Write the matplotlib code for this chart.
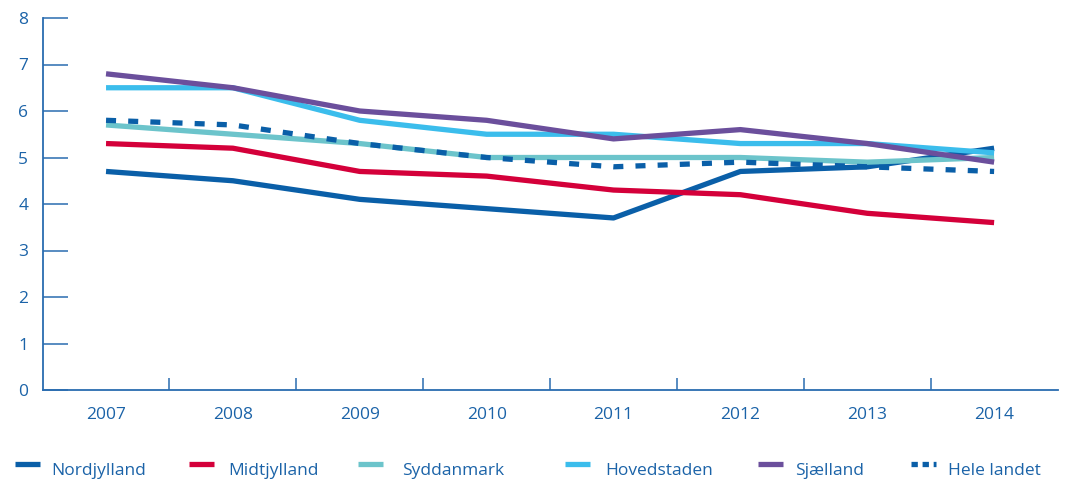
import matplotlib.pyplot as plt
from matplotlib.lines import Line2D

plt.rcParams['font.family'] = ['Open Sans', 'DejaVu Sans']

years = ['2007', '2008', '2009', '2010', '2011', '2012', '2013', '2014']
nordjylland = [4.7, 4.5, 4.1, 3.9, 3.7, 4.7, 4.8, 5.2]
midtjylland = [5.3, 5.2, 4.7, 4.6, 4.3, 4.2, 3.8, 3.6]
syddanmark = [5.7, 5.5, 5.3, 5.0, 5.0, 5.0, 4.9, 5.0]
hovedstaden = [6.5, 6.5, 5.8, 5.5, 5.5, 5.3, 5.3, 5.1]
sjaelland = [6.8, 6.5, 6.0, 5.8, 5.4, 5.6, 5.3, 4.9]
hele_landet = [5.8, 5.7, 5.3, 5.0, 4.8, 4.9, 4.8, 4.7]

names = ['Nordjylland', 'Midtjylland', 'Syddanmark', 'Hovedstaden', 'Sjælland', 'Hele landet']
series = [nordjylland, midtjylland, syddanmark, hovedstaden, sjaelland, hele_landet]
colors = ['#0a5fa8', '#d4003a', '#6cc4cb', '#3bbdec', '#6b4f9c', '#0a5fa8']

axis_col = '#2a6cb0'
text_col = '#1b63a8'

W, H = 1065, 480
fig = plt.figure(figsize=(W / 100, H / 100), dpi=100)
ax = fig.add_axes([0.040, 0.1875, 0.953, 0.775])

x = list(range(len(years)))
for name, vals, c in zip(names, series, colors):
    if name == 'Hele landet':
        ax.plot(x, vals, color=c, lw=3.8, dashes=(1.9, 2.3), solid_capstyle='butt')
    else:
        ax.plot(x, vals, color=c, lw=3.8, solid_capstyle='butt')

ax.set_xlim(-0.5, 7.5)
ax.set_ylim(0, 8)

for s in ['top', 'right']:
    ax.spines[s].set_visible(False)
for s in ['left', 'bottom']:
    ax.spines[s].set_color(axis_col)
    ax.spines[s].set_linewidth(1.3)

ax.set_yticks(range(0, 9))
ax.tick_params(axis='y', direction='in', length=18, width=1.1, color=axis_col,
               labelcolor=text_col, labelsize=12.5, pad=14)
for lab in ax.get_yticklabels():
    lab.set_horizontalalignment('center')

# category ticks sit between years, labels centred on the years
ax.set_xticks([i + 0.5 for i in range(len(years) - 1)])
ax.set_xticklabels([])
ax.set_xticks(x, minor=True)
ax.set_xticklabels(years, minor=True)
ax.tick_params(axis='x', which='major', direction='in', length=9, width=1.1, color=axis_col)
ax.tick_params(axis='x', which='minor', length=0, pad=12, labelcolor=text_col, labelsize=12.5)

# legend along the bottom, laid out by hand like the original
handle_x = [15, 189, 358, 565, 758, 911]
label_x = [51, 228, 402, 605, 795, 948]
handle_y = 1 - 464 / H
text_y = 1 - 475 / H
for name, c, hx, tx in zip(names, colors, handle_x, label_x):
    if name == 'Hele landet':
        ln = Line2D([hx / W, (hx + 25) / W], [handle_y, handle_y], transform=fig.transFigure,
                    color=c, lw=3.8, dashes=(1.2, 0.9), solid_capstyle='butt')
    else:
        ln = Line2D([hx / W, (hx + 25) / W], [handle_y, handle_y], transform=fig.transFigure,
                    color=c, lw=3.8, solid_capstyle='butt')
    fig.add_artist(ln)
    fig.text(tx / W, text_y, name, color=text_col, fontsize=12.5,
             ha='left', va='baseline')

fig.savefig('out.png', dpi=100)
